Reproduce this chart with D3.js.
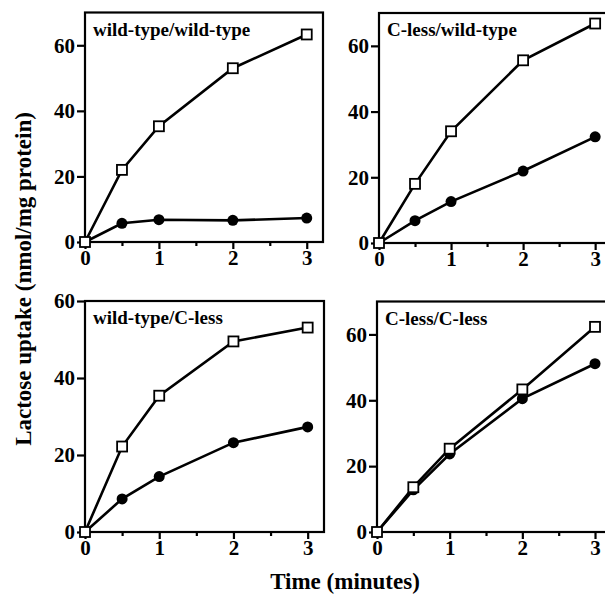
<!DOCTYPE html>
<html>
<head>
<meta charset="utf-8">
<script src="https://cdn.jsdelivr.net/npm/d3@7"></script>
<style>
  body { margin: 0; background: #fff; }
  svg text { font-family: "Liberation Serif", "Times New Roman", serif; font-weight: bold; fill: #000; }
</style>
</head>
<body>
<div id="chart"></div>
<script>
var
    width = 605,
    height = 595;

// time points (minutes)
var times = [0, 0.5, 1, 2, 3];

var panelTitles = ["wild-type/wild-type", "C-less/wild-type", "wild-type/C-less", "C-less/C-less"];

// open squares
var squareValues = [
  [0, 22, 35.3, 53, 63.3],
  [0, 18, 34, 55.6, 66.8],
  [0, 22.2, 35.4, 49.5, 53.1],
  [0, 13.6, 25.3, 43.3, 62.3]
];

// filled circles
var circleValues = [
  [0, 5.7, 6.8, 6.6, 7.3],
  [0, 6.8, 12.6, 21.9, 32.3],
  [0, 8.6, 14.4, 23.2, 27.3],
  [0, 12.8, 23.7, 40.5, 51.1]
];

var xTicks = [0, 1, 2, 3],
    xMinor = [0.5, 1.5, 2.5],
    yTicks = [0, 20, 40, 60];

var yMax = [70, 70, 60, 70];

// frame boxes of the four panels
var boxes = [
  {left: 85,  right: 323, top: 12.5,  bottom: 242},
  {left: 379, right: 611, top: 13,    bottom: 243},
  {left: 85,  right: 324, top: 301,   bottom: 532},
  {left: 377, right: 611, top: 301.5, bottom: 532}
];

var svg = d3.select("#chart")
    .append("svg")
    .attr("width", width)
    .attr("height", height);

boxes.forEach(function(b, i) {
  var x = d3.scaleLinear().domain([0, 3.22]).range([b.left, b.right]);
  var y = d3.scaleLinear().domain([0, yMax[i]]).range([b.bottom, b.top]);

  var g = svg.append("g");

  g.append("rect")
      .attr("x", b.left).attr("y", b.top)
      .attr("width", b.right - b.left).attr("height", b.bottom - b.top)
      .attr("fill", "none").attr("stroke", "#000").attr("stroke-width", 2.2);

  var xAxis = d3.axisBottom(x).tickValues(xTicks).tickSize(7).tickPadding(1).tickFormat(d3.format("d"));
  g.append("g")
      .attr("transform", "translate(0," + b.bottom + ")")
      .call(xAxis)
      .call(function(s) { s.select(".domain").remove(); })
      .call(function(s) {
        s.selectAll("line").attr("stroke-width", 2.2);
        s.selectAll("text").style("font-size", "21px");
      });

  g.append("g")
      .attr("transform", "translate(0," + b.bottom + ")")
      .call(d3.axisBottom(x).tickValues(xMinor).tickSize(4).tickFormat(""))
      .call(function(s) { s.select(".domain").remove(); s.selectAll("line").attr("stroke-width", 2.2); });

  var yAxis = d3.axisLeft(y).tickValues(yTicks).tickSize(8).tickPadding(2);
  g.append("g")
      .attr("transform", "translate(" + b.left + ",0)")
      .call(yAxis)
      .call(function(s) { s.select(".domain").remove(); })
      .call(function(s) {
        s.selectAll("line").attr("stroke-width", 2.2);
        s.selectAll("text").style("font-size", "21px");
      });

  var line = d3.line()
      .x(function(d) { return x(d[0]); })
      .y(function(d) { return y(d[1]); });

  var circ = d3.zip(times, circleValues[i]);
  var sq = d3.zip(times, squareValues[i]);

  g.append("path").datum(circ).attr("d", line)
      .attr("fill", "none").attr("stroke", "#000").attr("stroke-width", 2.6);
  g.append("path").datum(sq).attr("d", line)
      .attr("fill", "none").attr("stroke", "#000").attr("stroke-width", 2.6);

  g.selectAll(".dot").data(circ.slice(1)).enter().append("circle")
      .attr("cx", function(d) { return x(d[0]); })
      .attr("cy", function(d) { return y(d[1]); })
      .attr("r", 5.5)
      .attr("fill", "#000");

  g.selectAll(".sq").data(sq).enter().append("rect")
      .attr("x", function(d) { return x(d[0]) - 5; })
      .attr("y", function(d) { return y(d[1]) - 5; })
      .attr("width", 10).attr("height", 10)
      .attr("fill", "#fff").attr("stroke", "#000").attr("stroke-width", 1.8);

  g.append("text")
      .attr("x", b.left + 8)
      .attr("y", b.top + 23)
      .style("font-size", "19px")
      .text(panelTitles[i]);
});

svg.append("text")
    .attr("x", 345).attr("y", 589)
    .attr("text-anchor", "middle")
    .style("font-size", "23px")
    .text("Time (minutes)");

svg.append("text")
    .attr("transform", "translate(31,279) rotate(-90)")
    .attr("text-anchor", "middle")
    .style("font-size", "23px")
    .text("Lactose uptake (nmol/mg protein)");
</script>
</body>
</html>
